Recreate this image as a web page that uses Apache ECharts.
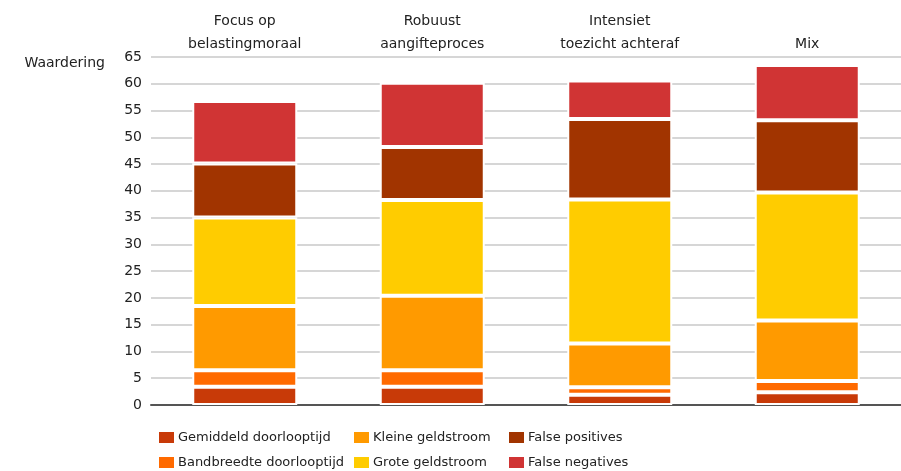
<!DOCTYPE html>
<html>
<head>
<meta charset="utf-8">
<script src="https://cdn.jsdelivr.net/npm/echarts@6/dist/echarts.min.js"></script>
<style>html,body{margin:0;padding:0;background:#fff}#c{width:901px;height:471px}</style>
</head>
<body>
<div id="c"></div>
<script>
var categories = ['Focus op\nbelastingmoraal', 'Robuust\naangifteproces', 'Intensiet\ntoezicht achteraf', 'Mix'];
var seriesNames = ['Gemiddeld doorlooptijd', 'Bandbreedte doorlooptijd', 'Kleine geldstroom', 'Grote geldstroom', 'False positives', 'False negatives'];
var gemiddeld   = [3.4, 3.4, 1.9, 2.4];
var bandbreedte = [3.1, 3.1, 1.4, 2.1];
var kleine      = [12.0, 13.9, 8.2, 11.3];
var grote       = [16.5, 17.9, 26.9, 23.9];
var falsePos    = [10.1, 9.9, 15.0, 13.5];
var falseNeg    = [11.7, 12.0, 7.2, 10.3];
var yTicks = {min: 0, max: 65, interval: 5};

var colors = ['#c83a08', '#ff6a00', '#ff9a00', '#ffcc00', '#a13400', '#d03434'];
var values = [gemiddeld, bandbreedte, kleine, grote, falsePos, falseNeg];
var FONT = 'DejaVu Sans';

var chart = echarts.init(document.getElementById('c'), null, {renderer: 'canvas'});
var series = values.map(function (v, i) {
  return {
    name: seriesNames[i], type: 'bar', stack: 'total', data: v, barWidth: 105,
    itemStyle: {color: colors[i], borderColor: '#ffffff', borderWidth: 2},
    emphasis: {disabled: true}
  };
});
var legendLefts = [157, 157, 352, 352, 507, 507];
var legendTops = [430, 455, 430, 455, 430, 455];
var legends = seriesNames.map(function (n, i) {
  return {
    data: [n], left: legendLefts[i], top: legendTops[i], padding: 0,
    itemWidth: 17, itemHeight: 13, icon: 'rect',
    textStyle: {fontFamily: FONT, fontSize: 13, color: '#222', padding: [0, 0, 0, -2]}
  };
});
chart.setOption({
  animation: false,
  color: colors,
  textStyle: {fontFamily: FONT},
  grid: {left: 151, top: 57, width: 761, bottom: 66, containLabel: false},
  legend: legends,
  xAxis: [{
    type: 'category', data: categories, position: 'top',
    axisLine: {show: false}, axisTick: {show: false},
    axisLabel: {fontFamily: FONT, fontSize: 14, color: '#222', lineHeight: 23, margin: 1, interval: 0}
  }, {
    type: 'category', data: categories, position: 'bottom',
    axisLine: {show: true, lineStyle: {color: '#555', width: 2}},
    axisTick: {show: false}, axisLabel: {show: false}
  }],
  yAxis: {
    type: 'value', min: yTicks.min, max: yTicks.max, interval: yTicks.interval,
    name: 'Waardering', nameLocation: 'end', nameGap: -6,
    nameTextStyle: {fontFamily: FONT, fontSize: 14, color: '#222', align: 'right', verticalAlign: 'middle', padding: [0, 46, 0, 0]},
    axisLine: {show: false}, axisTick: {show: false},
    axisLabel: {fontFamily: FONT, fontSize: 14, color: '#222', margin: 9},
    splitLine: {lineStyle: {color: '#c8c8c8', width: 1.5}}
  },
  series: series
});
</script>
</body>
</html>
